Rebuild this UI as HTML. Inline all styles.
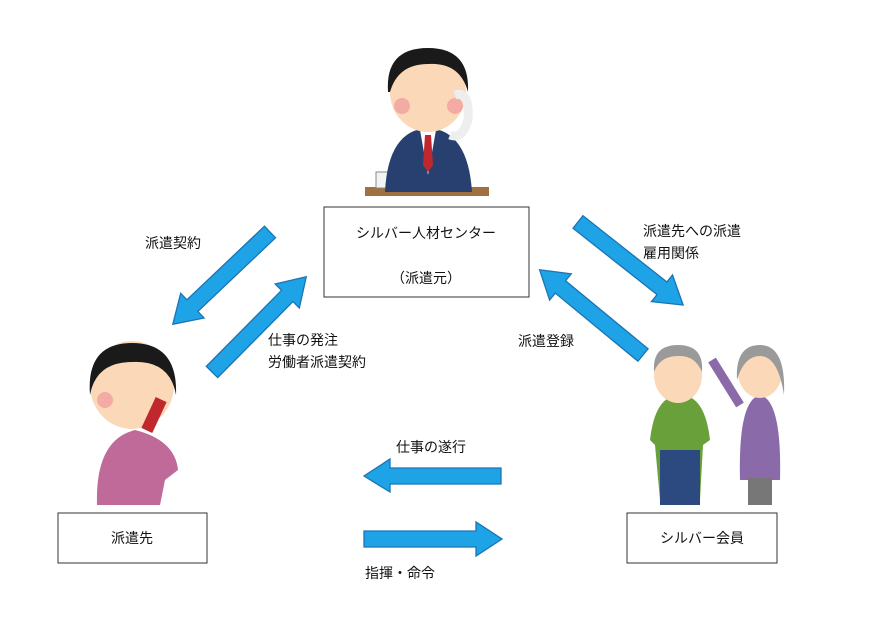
<!DOCTYPE html>
<html><head><meta charset="utf-8"><style>
html,body{margin:0;padding:0;background:#fff;}
svg text{font-family:"Liberation Sans","Noto Sans CJK JP",sans-serif;font-size:14px;fill:#111;}
</style></head><body>
<svg width="872" height="617" viewBox="0 0 872 617" xmlns="http://www.w3.org/2000/svg">
<defs>
<g id="a134"><polygon points="0,-8 107,-8 107,-17 134,0 107,17 107,8 0,8" fill="#1ea3e6" stroke="#1b74b5" stroke-width="1.3"/></g>
</defs>
<!-- diagonal arrows -->
<g transform="translate(270,232) rotate(136.5)"><use href="#a134"/></g>
<g transform="translate(212,372) rotate(-45.3)"><use href="#a134"/></g>
<g transform="translate(578,222) rotate(38.3)"><use href="#a134"/></g>
<g transform="translate(643,355) rotate(-140.5)"><use href="#a134"/></g>
<!-- horizontal arrows -->
<polygon points="501,468 390,468 390,459 364,476 390,492 390,484 501,484" fill="#1ea3e6" stroke="#1b74b5" stroke-width="1.3"/>
<polygon points="364,531 476,531 476,522 502,539 476,556 476,547 364,547" fill="#1ea3e6" stroke="#1b74b5" stroke-width="1.3"/>
<!-- boxes -->
<rect x="324" y="207" width="205" height="90" fill="#fff" stroke="#333" stroke-width="1"/>
<rect x="58" y="513" width="149" height="50" fill="#fff" stroke="#333" stroke-width="1"/>
<rect x="627" y="513" width="150" height="50" fill="#fff" stroke="#333" stroke-width="1"/>
<text x="426" y="238" text-anchor="middle">シルバー人材センター</text>
<text x="426" y="283" text-anchor="middle">（派遣元）</text>
<text x="132" y="543" text-anchor="middle">派遣先</text>
<text x="702" y="543" text-anchor="middle">シルバー会員</text>
<text x="145" y="248">派遣契約</text>
<text x="268" y="345">仕事の発注</text>
<text x="268" y="367">労働者派遣契約</text>
<text x="643" y="236">派遣先への派遣</text>
<text x="643" y="258">雇用関係</text>
<text x="518" y="346">派遣登録</text>
<text x="396" y="452">仕事の遂行</text>
<text x="365" y="578">指揮・命令</text>
<!-- businessman -->
<rect x="365" y="187" width="124" height="9" fill="#a07040"/>
<rect x="376" y="172" width="55" height="16" fill="#f4f4f4" stroke="#888"/>
<path d="M385 192 Q388 130 428 128 Q468 130 472 192 Z" fill="#27406f"/>
<polygon points="420,130 436,130 428,175" fill="#fff"/>
<polygon points="425,135 431,135 433,165 428,172 423,165" fill="#c0282d"/>
<ellipse cx="428" cy="92" rx="38" ry="40" fill="#fbd8b8"/>
<path d="M388 92 Q385 48 428 48 Q470 48 468 92 Q460 62 428 64 Q398 64 390 92Z" fill="#1a1a1a"/>
<circle cx="402" cy="106" r="8" fill="#f3a0a0" opacity=".8"/>
<circle cx="455" cy="106" r="8" fill="#f3a0a0" opacity=".8"/>
<path d="M455 95 Q470 90 468 120 Q462 140 450 135" fill="none" stroke="#eee" stroke-width="9"/>
<!-- woman -->
<path d="M97 505 Q95 440 135 430 Q175 440 178 470 L165 480 L160 505Z" fill="#c06a9a"/>
<ellipse cx="132" cy="385" rx="42" ry="44" fill="#fbd8b8"/>
<path d="M90 395 Q86 343 132 343 Q178 343 176 395 Q170 360 132 362 Q96 362 90 395Z" fill="#1a1a1a"/>
<circle cx="105" cy="400" r="8" fill="#f3a0a0" opacity=".8"/>
<rect x="148" y="398" width="12" height="34" fill="#c0282d" transform="rotate(25 154 415)"/>
<!-- elderly couple -->
<path d="M650 440 Q655 395 680 395 Q705 395 710 440 L703 445 L700 500 L660 500 L655 445Z" fill="#6aa03a"/>
<rect x="660" y="450" width="40" height="55" fill="#2c4a80"/>
<ellipse cx="678" cy="375" rx="24" ry="28" fill="#fbd8b8"/>
<path d="M654 372 Q652 345 678 345 Q704 345 702 372 Q695 355 678 356 Q660 356 654 372Z" fill="#9a9a9a"/>
<path d="M740 480 Q738 400 760 395 Q782 400 780 480Z" fill="#8a6aa8"/>
<rect x="748" y="478" width="24" height="27" fill="#777"/>
<ellipse cx="760" cy="372" rx="22" ry="26" fill="#fbd8b8"/>
<path d="M737 380 Q735 345 760 345 Q786 345 784 395 Q778 356 760 356 Q744 356 737 380Z" fill="#9a9a9a"/>
<path d="M740 405 L712 360" stroke="#8a6aa8" stroke-width="9"/>
</svg>
</body></html>
